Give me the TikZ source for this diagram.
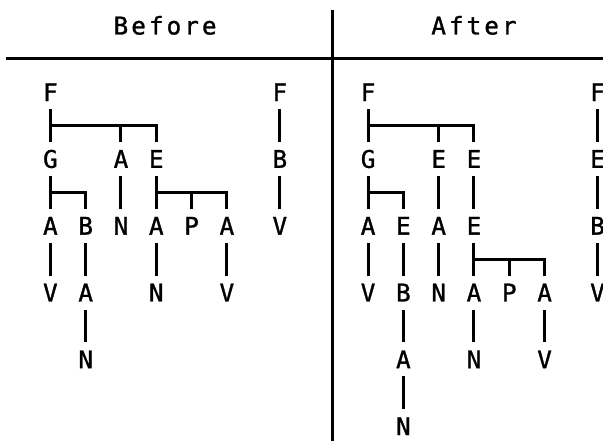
\documentclass[tikz,border=0pt]{standalone}
\usepackage{fontspec}
\setmonofont[FakeBold=1.2]{DejaVu Sans Mono}
\newfontfamily\headfont[LetterSpace=12.6,FakeBold=1.2]{DejaVu Sans Mono}
\usetikzlibrary{calc}

\tikzset{
  ch/.style={font=\ttfamily\fontsize{18.2}{18.2}\selectfont, inner xsep=0pt,
    inner ysep=2.6pt, text height=13.27pt, text depth=0pt, minimum width=13.2pt},
  head/.style={font=\headfont\fontsize{18.2}{18.2}\selectfont, inner sep=0pt},
  bar/.style={line width=2.25pt},
  link/.style={bar, shorten <=3.29pt, shorten >=3.29pt},
  fork/.style={bar, shorten >=3.29pt},
}

\begin{document}
\begin{tikzpicture}[x=13.2375pt,y=-25.05pt]
\useasboundingbox (-2.855,-2.76) rectangle (31.31,10.443);

% headings and frame
\node[head] (hBefore) at (6.5,-2) {Before};
\node[head] (hAfter) at (24,-2) {After};

\coordinate (ruleL) at (-2.5,-1);
\coordinate (ruleR) at (31.31,-1);
\coordinate (divT) at (16,-2.45);
\coordinate (divB) at (16,10.443);
\draw[bar] (ruleL) -- (ruleR);
\draw[bar] (divT) -- (divB);

% before
\node[ch] (bF1) at (0,0) {F};
\node[ch] (bF2) at (13,0) {F};
\node[ch] (bG1) at (0,2) {G};
\node[ch] (bA1) at (4,2) {A};
\node[ch] (bE1) at (6,2) {E};
\node[ch] (bB1) at (13,2) {B};
\node[ch] (bA2) at (0,4) {A};
\node[ch] (bB2) at (2,4) {B};
\node[ch] (bN1) at (4,4) {N};
\node[ch] (bA3) at (6,4) {A};
\node[ch] (bP1) at (8,4) {P};
\node[ch] (bA4) at (10,4) {A};
\node[ch] (bV1) at (13,4) {V};
\node[ch] (bV2) at (0,6) {V};
\node[ch] (bA5) at (2,6) {A};
\node[ch] (bN2) at (6,6) {N};
\node[ch] (bV3) at (10,6) {V};
\node[ch] (bN3) at (2,8) {N};

\coordinate (bJ1) at ($(bF1)!.5!(bG1)$);
\coordinate (bJ2) at ($(bG1)!.5!(bA2)$);
\coordinate (bJ3) at ($(bE1)!.5!(bA3)$);

\draw[link] (bF1) -- (bG1);
\foreach \k in {bA1,bE1} \draw[fork] (bJ1) -| (\k);
\draw[link] (bG1) -- (bA2);
\draw[fork] (bJ2) -| (bB2);
\draw[link] (bE1) -- (bA3);
\foreach \k in {bP1,bA4} \draw[fork] (bJ3) -| (\k);

\foreach \p/\c in {bF2/bB1, bB1/bV1, bA1/bN1, bA2/bV2, bB2/bA5, bA5/bN3,
  bA3/bN2, bA4/bV3}
  \draw[link] (\p) -- (\c);

% after
\node[ch] (aF1) at (18,0) {F};
\node[ch] (aF2) at (31,0) {F};
\node[ch] (aG1) at (18,2) {G};
\node[ch] (aE1) at (22,2) {E};
\node[ch] (aE2) at (24,2) {E};
\node[ch] (aE3) at (31,2) {E};
\node[ch] (aA1) at (18,4) {A};
\node[ch] (aE4) at (20,4) {E};
\node[ch] (aA2) at (22,4) {A};
\node[ch] (aE5) at (24,4) {E};
\node[ch] (aB1) at (31,4) {B};
\node[ch] (aV1) at (18,6) {V};
\node[ch] (aB2) at (20,6) {B};
\node[ch] (aN1) at (22,6) {N};
\node[ch] (aA3) at (24,6) {A};
\node[ch] (aP1) at (26,6) {P};
\node[ch] (aA4) at (28,6) {A};
\node[ch] (aV2) at (31,6) {V};
\node[ch] (aA5) at (20,8) {A};
\node[ch] (aN2) at (24,8) {N};
\node[ch] (aV3) at (28,8) {V};
\node[ch] (aN3) at (20,10) {N};

\coordinate (aJ1) at ($(aF1)!.5!(aG1)$);
\coordinate (aJ2) at ($(aG1)!.5!(aA1)$);
\coordinate (aJ3) at ($(aE5)!.5!(aA3)$);

\draw[link] (aF1) -- (aG1);
\foreach \k in {aE1,aE2} \draw[fork] (aJ1) -| (\k);
\draw[link] (aG1) -- (aA1);
\draw[fork] (aJ2) -| (aE4);
\draw[link] (aE5) -- (aA3);
\foreach \k in {aP1,aA4} \draw[fork] (aJ3) -| (\k);

\foreach \p/\c in {aF2/aE3, aE3/aB1, aB1/aV2, aE1/aA2, aE2/aE5, aA1/aV1,
  aE4/aB2, aB2/aA5, aA5/aN3, aA2/aN1, aA3/aN2, aA4/aV3}
  \draw[link] (\p) -- (\c);

\end{tikzpicture}
\end{document}
